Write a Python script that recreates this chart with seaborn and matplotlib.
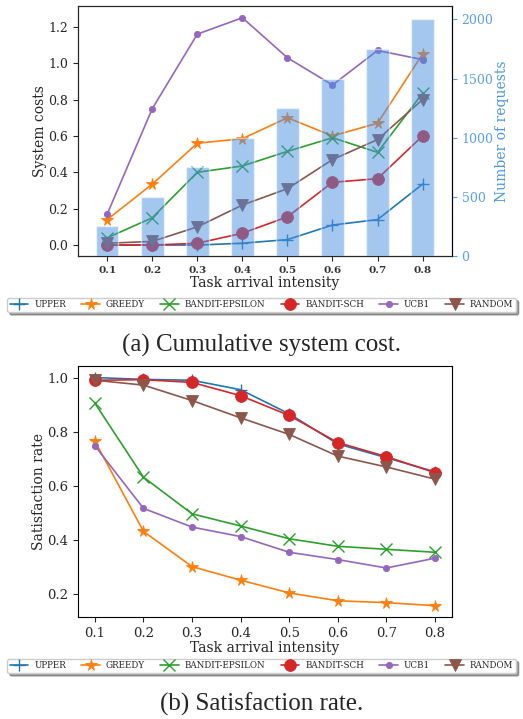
import matplotlib
matplotlib.use("Agg")
import matplotlib.pyplot as plt
import seaborn as sns
import pandas as pd
import numpy as np

sns.set_style("ticks")
plt.rcParams['font.family'] = ['DejaVu Serif']

intensity = [0.1, 0.2, 0.3, 0.4, 0.5, 0.6, 0.7, 0.8]
requests = [250, 500, 750, 1000, 1250, 1500, 1750, 2000]

algorithms = ["UPPER", "GREEDY", "BANDIT-EPSILON", "BANDIT-SCH", "UCB1", "RANDOM"]

cost_upper = [0.0, 0.0, 0.0, 0.01, 0.03, 0.11, 0.14, 0.335]
cost_greedy = [0.14, 0.335, 0.56, 0.585, 0.70, 0.60, 0.67, 1.05]
cost_epsilon = [0.04, 0.15, 0.40, 0.435, 0.515, 0.59, 0.51, 0.835]
cost_sch = [0.0, 0.0, 0.01, 0.065, 0.155, 0.345, 0.365, 0.60]
cost_ucb1 = [0.17, 0.75, 1.16, 1.25, 1.03, 0.88, 1.07, 1.02]
cost_random = [0.01, 0.02, 0.10, 0.22, 0.31, 0.47, 0.58, 0.80]

sat_upper = [1.0, 0.993, 0.99, 0.955, 0.866, 0.755, 0.704, 0.652]
sat_greedy = [0.765, 0.432, 0.302, 0.252, 0.205, 0.176, 0.169, 0.158]
sat_epsilon = [0.905, 0.632, 0.497, 0.452, 0.405, 0.377, 0.366, 0.355]
sat_sch = [0.99, 0.992, 0.982, 0.933, 0.86, 0.76, 0.708, 0.649]
sat_ucb1 = [0.748, 0.517, 0.448, 0.413, 0.355, 0.328, 0.297, 0.333]
sat_random = [0.99, 0.972, 0.915, 0.851, 0.79, 0.71, 0.67, 0.625]

costs = [cost_upper, cost_greedy, cost_epsilon, cost_sch, cost_ucb1, cost_random]
sats = [sat_upper, sat_greedy, sat_epsilon, sat_sch, sat_ucb1, sat_random]

colors = ["#1f77b4", "#ff7f0e", "#2ca02c", "#d62728", "#9467bd", "#8c564b"]
markers = ["+", "*", "x", "o", "o", "v"]
msizes = [8.5, 8.5, 8.5, 8.5, 4.5, 8.5]

fig = plt.figure(figsize=(5.23, 7.19), dpi=100)
ax1 = fig.add_axes([0.149, 0.644, 0.715, 0.348])
ax2 = fig.add_axes([0.149, 0.1418, 0.715, 0.349])


def draw_lines(ax, series):
    handles = []
    for name, vals, c, m, ms in zip(algorithms, series, colors, markers, msizes):
        df = pd.DataFrame({"x": intensity, "y": vals})
        sns.lineplot(data=df, x="x", y="y", ax=ax, color=c, marker=m,
                     markersize=ms, linewidth=1.2, label=name,
                     markeredgecolor=c, markeredgewidth=1.0 if m in "+x" else 0.6,
                     legend=False)
        handles.append(ax.lines[-1])
    return handles


h1 = draw_lines(ax1, costs)
ax1.set_xlim(0.035, 0.865)
ax1.set_ylim(-0.06, 1.316)
ax1.set_xticks(intensity)
ax1.set_xticklabels([f"{v:.1f}" for v in intensity], fontsize=7.5, fontweight='bold', color='#333333')
ax1.set_yticks([0.0, 0.2, 0.4, 0.6, 0.8, 1.0, 1.2])
ax1.tick_params(axis='y', labelsize=9)
ax1.set_xlabel("Task arrival intensity", fontsize=10, labelpad=1)
ax1.set_ylabel("System costs", fontsize=10, labelpad=1)

axr = ax1.twinx()
axr.bar(intensity, requests, width=0.05, color="#4a90e2", alpha=0.5, zorder=1)
axr.set_ylim(0, 2116)
axr.set_yticks([0, 500, 1000, 1500, 2000])
axr.tick_params(axis='y', colors='#5aa0e8', labelsize=9)
axr.spines['right'].set_color('black')
axr.set_ylabel("Number of requests", color='#4a98e8', fontsize=10, labelpad=1)

h2 = draw_lines(ax2, sats)
ax2.set_xticks(intensity)
ax2.set_xticklabels([f"{v:.1f}" for v in intensity])
ax2.set_yticks([0.2, 0.4, 0.6, 0.8, 1.0])
ax2.tick_params(axis='both', labelsize=9.5)
ax2.set_xlabel("Task arrival intensity", fontsize=10, labelpad=1)
ax2.set_ylabel("Satisfaction rate", fontsize=10, labelpad=1)

for ax in (ax1, ax2):
    for s in ax.spines.values():
        s.set_visible(True)
        s.set_color('black')
axr.spines['top'].set_visible(True)

for handles, yc in ((h1, 1 - 305 / 719), (h2, 1 - 666 / 719)):
    leg = fig.legend(handles, algorithms, loc='center', bbox_to_anchor=(0.5, yc),
                     ncol=6, fontsize=6.3, shadow=True, fancybox=True,
                     handlelength=2.1, columnspacing=1.75, handletextpad=0.7,
                     borderpad=0.3, frameon=True)
    leg.get_frame().set_edgecolor('#cccccc')

fig.text(0.5, 1 - 345 / 719, "(a) Cumulative system cost.", ha='center', va='center',
         fontsize=18, family=['Liberation Serif'])
fig.text(0.5, 1 - 704 / 719, "(b) Satisfaction rate.", ha='center', va='center',
         fontsize=18, family=['Liberation Serif'])

fig.savefig("out.png", dpi=100)
